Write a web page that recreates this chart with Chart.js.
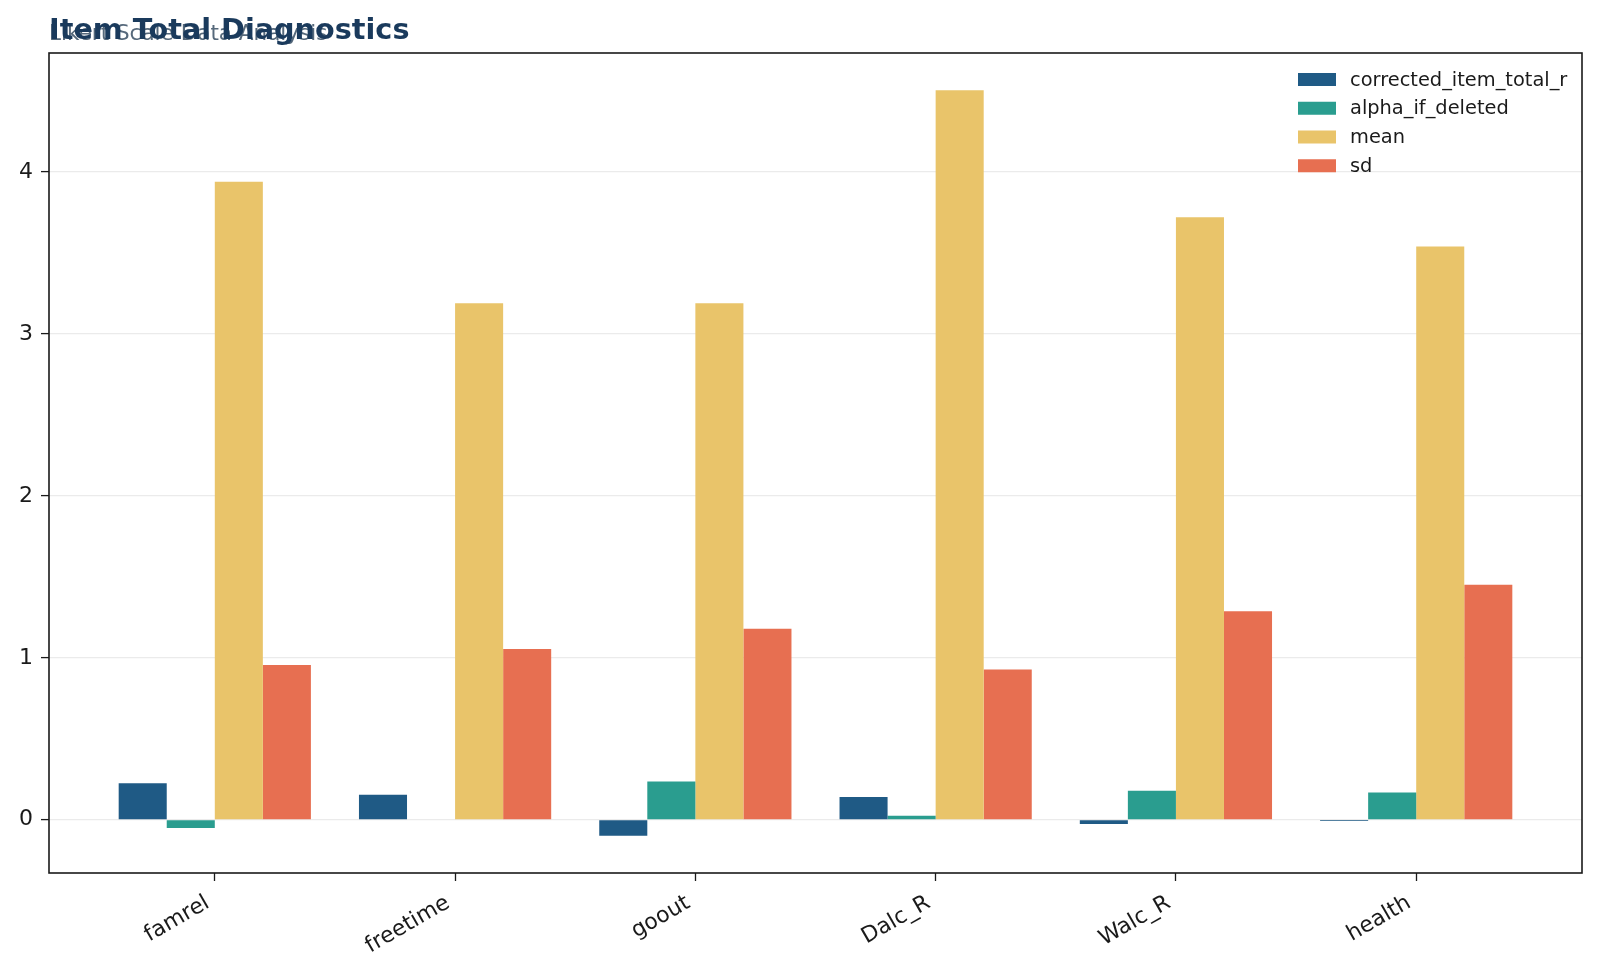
<!DOCTYPE html>
<html>
<head>
<meta charset="utf-8">
<script src="https://cdn.jsdelivr.net/npm/chart.js@4.4.1/dist/chart.umd.min.js"></script>
<style>
html,body{margin:0;padding:0;background:#ffffff;}
#wrap{width:1600px;height:978px;position:relative;}
</style>
</head>
<body>
<div id="wrap"><canvas id="c" width="1600" height="978"></canvas></div>
<script>
// ---- data ----
const categories = ['famrel', 'freetime', 'goout', 'Dalc_R', 'Walc_R', 'health'];
const seriesNames = ['corrected_item_total_r', 'alpha_if_deleted', 'mean', 'sd'];
const correctedItemTotalR = [0.226, 0.155, -0.099, 0.140, -0.027, -0.008];
const alphaIfDeleted = [-0.051, 0.0, 0.236, 0.025, 0.179, 0.168];
const meanValues = [3.94, 3.19, 3.19, 4.505, 3.72, 3.54];
const sdValues = [0.955, 1.054, 1.18, 0.927, 1.287, 1.451];
const yTickValues = [0, 1, 2, 3, 4];
const titleText = 'Item Total Diagnostics';
const subtitleText = 'Likert Scale Data Analysis';

// ---- styling ----
const seriesColors = ['#1f5a85', '#2a9d8f', '#e9c46a', '#e76f51'];
const FONT = "'DejaVu Sans', 'Liberation Sans', sans-serif";

const seriesValues = [correctedItemTotalR, alphaIfDeleted, meanValues, sdValues];
const datasets = seriesNames.map((name, s) => ({
  label: name,
  data: categories.map((c, i) => ({ x: i, y: seriesValues[s][i] })),
  backgroundColor: seriesColors[s],
  borderWidth: 0,
  categoryPercentage: 0.8,
  barPercentage: 1.0
}));

const decorPlugin = {
  id: 'decor',
  afterDatasetsDraw(chart) {
    const ctx = chart.ctx;
    const a = chart.chartArea;
    ctx.save();
    // frame
    ctx.strokeStyle = '#1a1a1a';
    ctx.lineWidth = 1.6;
    ctx.strokeRect(a.left, a.top, a.right - a.left, a.bottom - a.top);
    // legend
    const rowY0 = 79.5, rowStep = 28.75;
    const swX = 1298, swW = 38, swH = 13, txtX = 1350;
    ctx.font = '19.4px ' + FONT;
    ctx.textBaseline = 'middle';
    ctx.textAlign = 'left';
    chart.data.datasets.forEach((ds, i) => {
      const y = rowY0 + i * rowStep;
      ctx.fillStyle = ds.backgroundColor;
      ctx.fillRect(swX, y - swH / 2, swW, swH);
      ctx.fillStyle = '#1a1a1a';
      ctx.fillText(ds.label, txtX, y + 1);
    });
    ctx.restore();
  },
  afterDraw(chart) {
    const ctx = chart.ctx;
    ctx.save();
    ctx.textBaseline = 'alphabetic';
    ctx.textAlign = 'left';
    ctx.fillStyle = '#56697b';
    ctx.font = '21.5px ' + FONT;
    ctx.fillText(subtitleText, 49, 40);
    ctx.fillStyle = '#1a3a5c';
    ctx.font = 'bold 28.7px ' + FONT;
    ctx.fillText(titleText, 49, 39);
    ctx.restore();
  }
};

new Chart(document.getElementById('c'), {
  type: 'bar',
  data: { datasets },
  options: {
    responsive: false,
    devicePixelRatio: 1,
    animation: false,
    layout: { padding: { top: 53, left: 0, right: 18, bottom: 0 } },
    plugins: {
      legend: { display: false },
      title: { display: false },
      tooltip: { enabled: false }
    },
    scales: {
      x: {
        type: 'linear',
        min: -0.69,
        max: 5.69,
        offset: false,
        afterBuildTicks(scale) { scale.ticks = categories.map((c, i) => ({ value: i })); },
        afterFit(scale) { scale.height = 105; },
        grid: { display: true, offset: false, drawOnChartArea: false, drawTicks: true, tickLength: 8, tickColor: '#1a1a1a', tickWidth: 1.3 },
        border: { display: false },
        ticks: {
          autoSkip: false,
          maxRotation: 30,
          minRotation: 30,
          padding: 9,
          labelOffset: -7,
          color: '#1a1a1a',
          font: { family: FONT, size: 22 },
          callback: (v) => categories[Math.round(v)]
        }
      },
      y: {
        type: 'linear',
        min: -0.329,
        max: 4.735,
        afterBuildTicks(scale) { scale.ticks = yTickValues.map(v => ({ value: v })); },
        afterFit(scale) { scale.width = 49; },
        grid: { color: '#ebebeb', lineWidth: 1.2, drawTicks: true, tickLength: 8, tickColor: '#1a1a1a', tickWidth: 1.3 },
        border: { display: false },
        ticks: {
          padding: 8,
          color: '#1a1a1a',
          font: { family: FONT, size: 22 },
          callback: (v) => String(v)
        }
      }
    }
  },
  plugins: [decorPlugin]
});
</script>
</body>
</html>
